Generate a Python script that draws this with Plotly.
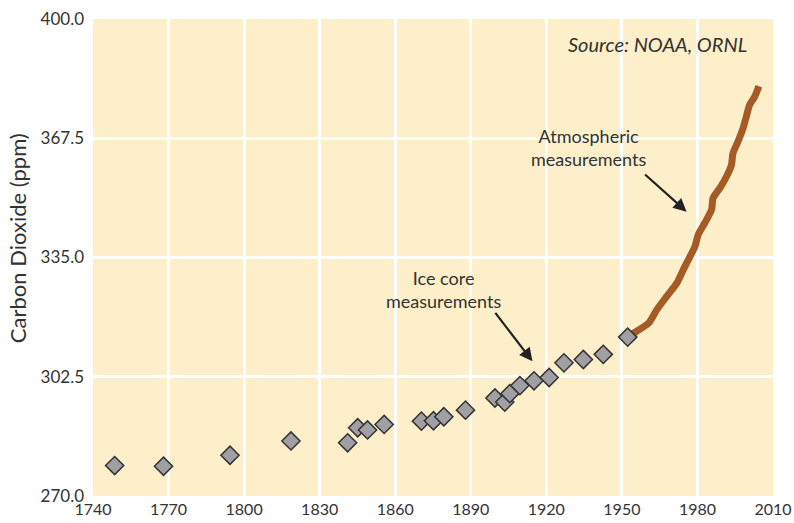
import plotly.graph_objects as go

# Ice core measurements (diamonds)
ice_years = [1748.6, 1768.0, 1794.4, 1818.6, 1841.1, 1845.1, 1849.0, 1855.6,
             1870.4, 1875.2, 1879.3, 1887.9, 1899.6, 1903.5, 1905.5, 1909.5,
             1915.1, 1921.1, 1927.0, 1934.7, 1942.6, 1952.3]
ice_ppm = [278.3, 278.1, 281.1, 285.0, 284.5, 288.6, 288.0, 289.5,
           290.4, 290.5, 291.6, 293.4, 296.7, 295.6, 297.9, 300.1,
           301.4, 302.3, 306.3, 307.2, 308.6, 313.3]

# Atmospheric measurements (line)
atm_years = [1952.7, 1955.9, 1960.6, 1963.9, 1967.8, 1971.8, 1974.4, 1976.4,
             1979.0, 1980.3, 1982.9, 1985.6, 1986.2, 1988.9, 1991.5, 1993.5,
             1994.1, 1996.1, 1998.1, 1999.4, 2000.7, 2002.7, 2004.4]
atm_ppm = [313.5, 314.9, 317.1, 320.8, 324.4, 328.0, 331.7, 334.4,
           338.0, 341.2, 344.4, 348.0, 351.2, 353.9, 357.0, 360.2,
           363.4, 366.6, 370.2, 373.4, 376.6, 378.8, 381.7]

x_ticks = [1740, 1770, 1800, 1830, 1860, 1890, 1920, 1950, 1980, 2010]
y_ticks = [270.0, 302.5, 335.0, 367.5, 400.0]

FONT = "Lato, 'Open Sans', sans-serif"
TXT = "#333333"

fig = go.Figure()
fig.add_trace(go.Scatter(
    x=atm_years, y=atm_ppm, mode="lines",
    line=dict(color="#A65A25", width=7, shape="spline", smoothing=0.6),
    showlegend=False, hoverinfo="skip"))
fig.add_trace(go.Scatter(
    x=ice_years, y=ice_ppm, mode="markers",
    marker=dict(symbol="diamond", size=14, color="#A0A0A4",
                line=dict(color="#333333", width=1.5)),
    showlegend=False))

fig.update_layout(
    width=794, height=523,
    margin=dict(l=93, r=21, t=19, b=27),
    paper_bgcolor="white", plot_bgcolor="#FCEFC9",
    font=dict(family=FONT, size=17, color=TXT),
    xaxis=dict(range=[1740, 2010], tickvals=x_ticks, showgrid=True,
               gridcolor="white", gridwidth=3, zeroline=False, showline=False,
               ticks="", automargin=False, ticklabelstandoff=2,
               ticklabeloverflow="allow",
               tickfont=dict(size=16, color=TXT)),
    yaxis=dict(range=[270, 400], tickvals=y_ticks, tickformat=".1f",
               showgrid=True, gridcolor="white", gridwidth=3, zeroline=False,
               showline=False, ticks="", ticklabelstandoff=8, automargin=False,
               ticklabeloverflow="allow",
               tickfont=dict(size=17, color=TXT)),
)

# y axis title
fig.add_annotation(x=-0.11, y=0.541, xref="paper", yref="paper", showarrow=False,
                   text="Carbon Dioxide (ppm)", textangle=-90,
                   xanchor="center", yanchor="middle",
                   font=dict(size=22, color=TXT))

fig.add_annotation(x=2000.6, y=393.2, xref="x", yref="y", showarrow=False,
                   text="<i>Source: NOAA, ORNL</i>", xanchor="right",
                   font=dict(size=20, color=TXT))
fig.add_annotation(x=1936.9, y=365.0, xref="x", yref="y", showarrow=False,
                   text="Atmospheric<br>measurements", align="center",
                   font=dict(size=18, color=TXT))
fig.add_annotation(x=1879.2, y=326.3, xref="x", yref="y", showarrow=False,
                   text="Ice core<br>measurements", align="center",
                   font=dict(size=18, color=TXT))
# arrows
fig.add_annotation(x=1975.7, y=347.5, ax=1958.6, ay=358.0, xref="x", yref="y",
                   axref="x", ayref="y", text="", showarrow=True,
                   arrowhead=2, arrowsize=1.2, arrowwidth=2.2, arrowcolor="#222222")
fig.add_annotation(x=1914.5, y=306.7, ax=1899.3, ay=320.3, xref="x", yref="y",
                   axref="x", ayref="y", text="", showarrow=True,
                   arrowhead=2, arrowsize=1.2, arrowwidth=2.2, arrowcolor="#222222")

fig.write_html("out.html", config={"displayModeBar": False},
               post_script="document.body.style.margin='0';document.body.style.padding='0';")
